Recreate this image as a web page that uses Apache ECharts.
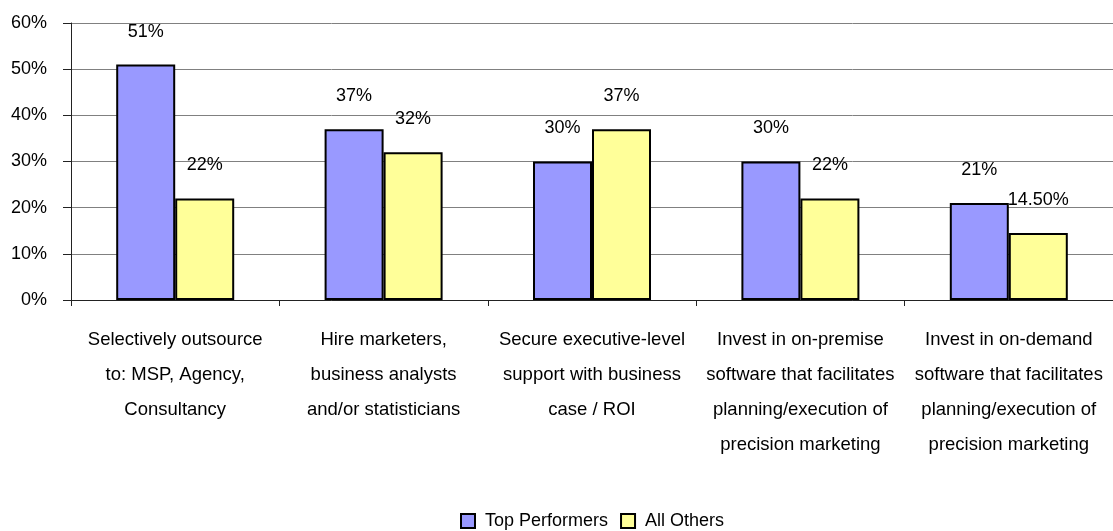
<!DOCTYPE html>
<html>
<head>
<meta charset="utf-8">
<script src="https://cdn.jsdelivr.net/npm/echarts@6/dist/echarts.min.js"></script>
<style>
    html, body { margin: 0; padding: 0; background: #fff; }
    #chart { width: 1113px; height: 531px; }
</style>
</head>
<body>
<div id="chart"></div>
<script>
var categories = [
    'Selectively outsource\nto: MSP, Agency,\nConsultancy',
    'Hire marketers,\nbusiness analysts\nand/or statisticians',
    'Secure executive-level\nsupport with business\ncase / ROI',
    'Invest in on-premise\nsoftware that facilitates\nplanning/execution of\nprecision marketing',
    'Invest in on-demand\nsoftware that facilitates\nplanning/execution of\nprecision marketing'
];
var topPerformers = [51, 37, 30, 30, 21];
var allOthers = [22, 32, 37, 22, 14.5];
var topLabels = ['51%', '37%', '30%', '30%', '21%'];
var otherLabels = ['22%', '32%', '37%', '22%', '14.50%'];

var font = 'Liberation Sans, Arial, sans-serif';

var chart = echarts.init(document.getElementById('chart'));

function barLabel(texts) {
    return {
        show: true,
        position: 'top',
        distance: 24,
        color: '#000',
        fontFamily: font,
        fontSize: 18,
        formatter: function (p) { return texts[p.dataIndex]; }
    };
}

var option = {
    animation: false,
    backgroundColor: '#fff',
    grid: { left: 71, right: 0, top: 23, bottom: 231 },
    legend: {
        top: 507,
        left: 455,
        itemWidth: 14,
        itemHeight: 14,
        itemGap: 12,
        icon: 'rect',
        textStyle: { fontFamily: font, fontSize: 18, color: '#000', padding: [0, 0, 0, 5] },
        data: ['Top Performers', 'All Others']
    },
    xAxis: {
        type: 'category',
        data: categories,
        axisLine: { lineStyle: { color: '#222', width: 1 } },
        axisTick: { show: true, length: 6, lineStyle: { color: '#222' } },
        axisLabel: {
            interval: 0,
            margin: 22,
            color: '#000',
            fontFamily: font,
            fontSize: 18.5,
            lineHeight: 35
        }
    },
    yAxis: {
        type: 'value',
        min: 0,
        max: 60,
        interval: 10,
        axisLine: { show: true, lineStyle: { color: '#222', width: 1 } },
        axisTick: { show: true, length: 8, lineStyle: { color: '#222' } },
        splitLine: { lineStyle: { color: '#808080', width: 1 } },
        axisLabel: {
            margin: 24,
            color: '#000',
            fontFamily: font,
            fontSize: 18,
            formatter: '{value}%'
        }
    },
    series: [
        {
            name: 'Top Performers',
            type: 'bar',
            data: topPerformers,
            barWidth: 59,
            barGap: '0%',
            itemStyle: { color: '#9999FF', borderColor: '#000', borderWidth: 2 },
            label: barLabel(topLabels)
        },
        {
            name: 'All Others',
            type: 'bar',
            data: allOthers,
            barWidth: 59,
            barGap: '0%',
            itemStyle: { color: '#FFFF99', borderColor: '#000', borderWidth: 2 },
            label: barLabel(otherLabels)
        }
    ]
};

chart.setOption(option);
</script>
</body>
</html>
